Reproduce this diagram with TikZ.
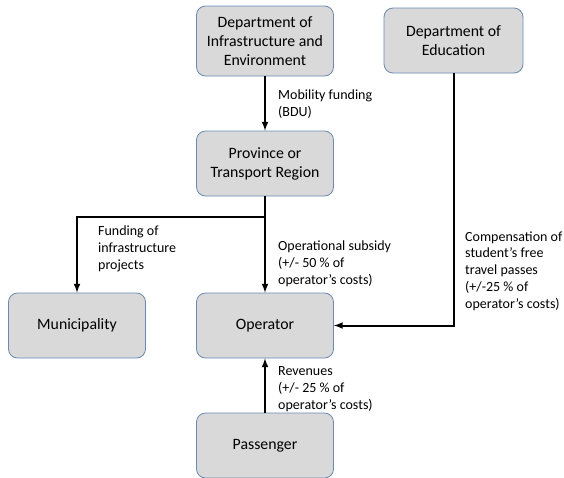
\documentclass[tikz,border=0pt]{standalone}
\usepackage{fontspec}
\setmainfont{Carlito}
\definecolor{boxfill}{HTML}{D9D9D9}
\definecolor{boxline}{HTML}{6A8AB0}
\tikzset{
  unit/.style={draw=boxline, line width=0.8pt, fill=boxfill, rounded corners=9pt,
    minimum width=137pt, minimum height=65pt, align=center,
    font=\fontsize{15.8}{19}\selectfont},
  flow/.style={anchor=west, align=left, inner sep=0pt,
    font=\fontsize{14}{16.8}\selectfont},
}
\begin{document}
\begin{tikzpicture}[>=latex, x=1pt, y=-1pt]
\useasboundingbox (0,0) rectangle (564,477);
\node[unit, minimum height=70pt] (dinfra) at (265,41) {Department of\\Infrastructure and\\Environment};
\node[unit, minimum width=139pt] (dedu) at (453.5,40.5) {Department of\\Education};
\node[unit] (prov) at (265,163.5) {Province or\\Transport Region};
\node[unit] (muni) at (77,325.5) {Municipality};
\node[unit] (oper) at (265,325.5) {Operator};
\node[unit] (pass) at (265,445.5) {Passenger};
\coordinate (split) at (265,217);
% connectors
\begin{scope}[line width=2pt]
\draw[->] (dinfra) -- (prov);
\draw (prov) -- (split);
\draw[->] (split) -- (oper);
\draw[->] (split) -| (muni);
\draw[->] (dedu) |- (oper);
\draw[->] (pass) -- (oper);
\end{scope}
% labels
\node[flow] (lmob) at (278,104) {Mobility funding\\(BDU)};
\node[flow] (linfra) at (98,249) {Funding of\\infrastructure\\projects};
\node[flow] (lsub) at (278,264) {Operational subsidy\\(+/- 50 \% of\\operator’s costs)};
\node[flow] (lcomp) at (465,271) {Compensation of\\student’s free\\travel passes\\(+/-25 \% of\\operator’s costs)};
\node[flow] (lrev) at (278,389) {Revenues\\(+/- 25 \% of\\operator’s costs)};
\end{tikzpicture}
\end{document}
